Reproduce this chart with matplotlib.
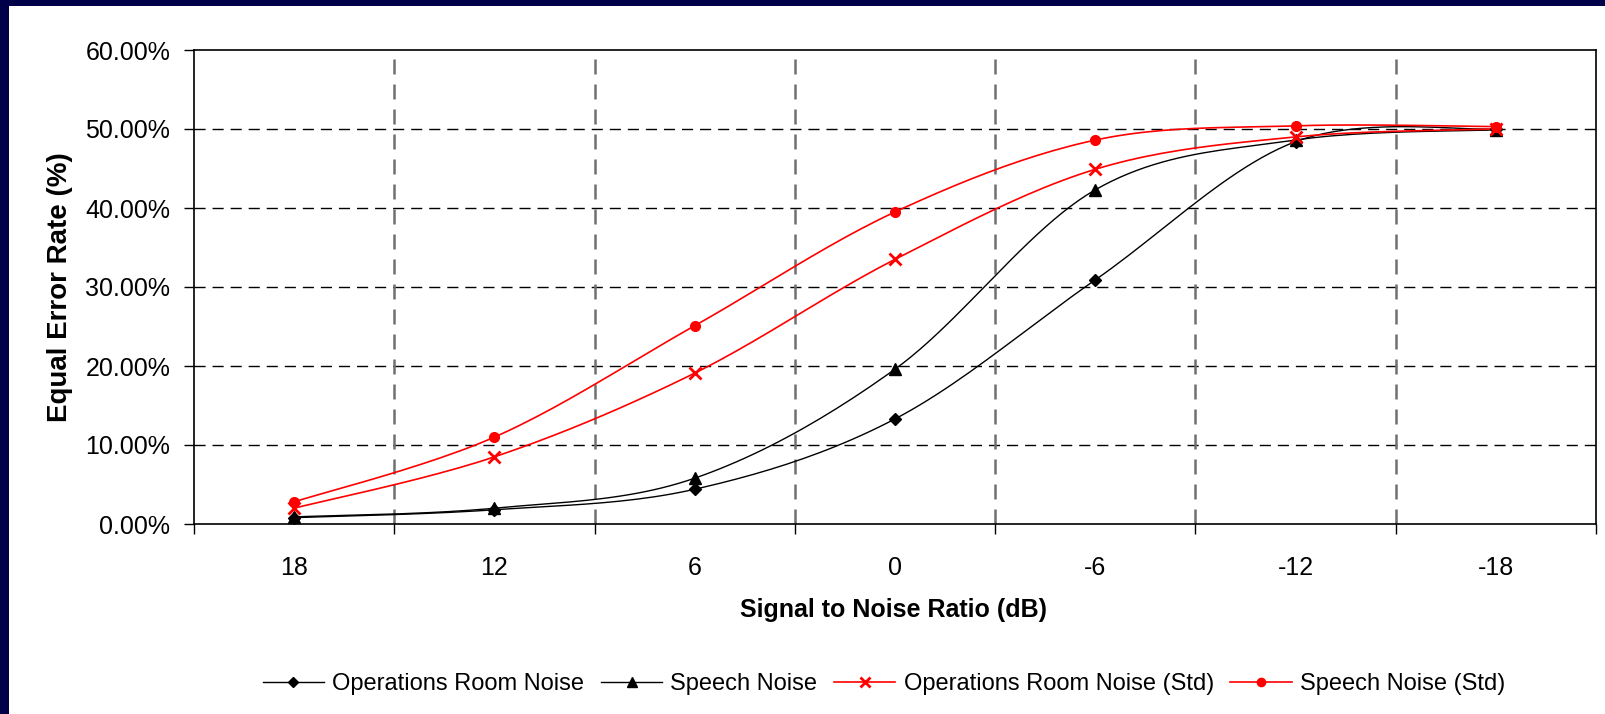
import numpy as np
import matplotlib
matplotlib.use("Agg")
import matplotlib.pyplot as plt
from matplotlib.patches import Rectangle
from matplotlib.lines import Line2D

plt.rcParams['font.family'] = ['Liberation Sans', 'DejaVu Sans']

# Signal-to-noise categories (dB) and equal error rates (%)
snr_labels = ["18", "12", "6", "0", "-6", "-12", "-18"]
ops_room = [0.8, 1.8, 4.4, 13.3, 30.9, 48.4, 50.0]
speech = [0.9, 2.0, 5.8, 19.6, 42.3, 48.6, 49.9]
ops_room_std = [2.0, 8.5, 19.1, 33.5, 44.9, 49.0, 50.0]
speech_std = [2.8, 11.0, 25.1, 39.5, 48.6, 50.4, 50.3]

series_names = ["Operations Room Noise", "Speech Noise",
                "Operations Room Noise (Std)", "Speech Noise (Std)"]


def smooth_curve(x, y, steps=24):
    """Bezier smoothing through the points (Catmull-Rom style control points)."""
    x = np.asarray(x, float)
    y = np.asarray(y, float)
    n = len(x)
    px, py = [], []
    for i in range(n - 1):
        i0 = max(i - 1, 0)
        i3 = min(i + 2, n - 1)
        p0 = np.array([x[i0], y[i0]])
        p1 = np.array([x[i], y[i]])
        p2 = np.array([x[i + 1], y[i + 1]])
        p3 = np.array([x[i3], y[i3]])
        c1 = p1 + (p2 - p0) / 6.0
        c2 = p2 - (p3 - p1) / 6.0
        t = np.linspace(0, 1, steps, endpoint=(i == n - 2))[:, None]
        pts = ((1 - t) ** 3) * p1 + 3 * ((1 - t) ** 2) * t * c1 + 3 * (1 - t) * t ** 2 * c2 + t ** 3 * p2
        px.extend(pts[:, 0])
        py.extend(pts[:, 1])
    return np.array(px), np.array(py)


fig = plt.figure(figsize=(16.06, 7.14), dpi=100)
fig.patch.set_facecolor("white")

# dark slide frame on the top and left edges
navy = "#000048"
fig.patches.append(Rectangle((0, 0), 8.7 / 1606, 1, transform=fig.transFigure,
                             facecolor=navy, edgecolor="none", zorder=0))
fig.patches.append(Rectangle((0, 1 - 6 / 714), 1, 6 / 714, transform=fig.transFigure,
                             facecolor=navy, edgecolor="none", zorder=0))

ax = fig.add_axes([194 / 1606, 1 - 524 / 714, (1596 - 194) / 1606, (524 - 50) / 714])

xs = np.arange(len(snr_labels))
styles = [
    (ops_room, "black", "D", 6.5, 1.0, 1.0),
    (speech, "black", "^", 8.5, 1.0, 1.0),
    (ops_room_std, "#ff0000", "x", 8.5, 2.0, 1.2),
    (speech_std, "#ff0000", "o", 7.0, 1.0, 1.2),
]
handles = []
for (vals, color, marker, ms, mew, lw), name in zip(styles, series_names):
    cx, cy = smooth_curve(xs, vals)
    ax.plot(cx, cy, color=color, lw=lw, zorder=3)
    ax.plot(xs, vals, linestyle="none", marker=marker, color=color,
            markersize=ms, markeredgewidth=mew, zorder=4)
    handles.append(Line2D([], [], color=color, lw=lw, marker=marker,
                          markersize=ms * 0.85, markeredgewidth=mew, label=name))

ax.set_xlim(-0.5, len(snr_labels) - 0.5)
ax.set_ylim(0, 60)

# category boundaries carry the ticks and vertical grid; labels sit at the centres
ax.set_xticks(np.arange(-0.5, len(snr_labels)))
ax.set_xticklabels([])
ax.set_xticks(xs, minor=True)
ax.set_xticklabels(snr_labels, minor=True)
ax.tick_params(axis="x", which="major", length=7, width=1, direction="out")
ax.tick_params(axis="x", which="minor", length=0, pad=23, labelsize=18)

ax.set_yticks(np.arange(0, 61, 10))
ax.set_yticklabels([f"{v:.2f}%" for v in np.arange(0, 61, 10)])
ax.tick_params(axis="y", length=7, width=1, direction="out", pad=10, labelsize=18)

for v in range(10, 60, 10):
    ax.axhline(v, color="black", lw=1.0, dashes=(8, 5), zorder=1)
for b in np.arange(0.5, len(snr_labels) - 1):
    ax.axvline(b, color="#707070", lw=1.8, dashes=(6, 4), zorder=1)

for s in ax.spines.values():
    s.set_color("black")
    s.set_linewidth(1.2)

ax.set_ylabel("Equal Error Rate (%)", fontsize=20, fontweight="bold")
ax.yaxis.set_label_coords((73 - 194) / 1402, 0.5)
fig.text(894 / 1606, 1 - 610 / 714, "Signal to Noise Ratio (dB)", fontsize=18,
         fontweight="bold", ha="center", va="center")

fig.legend(handles=handles, loc="center", bbox_to_anchor=(884 / 1606, 1 - 684 / 714),
           ncol=4, frameon=False, fontsize=17, handlelength=2.6, handletextpad=0.35,
           columnspacing=0.7)

fig.savefig("out.png", dpi=100, facecolor=fig.get_facecolor())
